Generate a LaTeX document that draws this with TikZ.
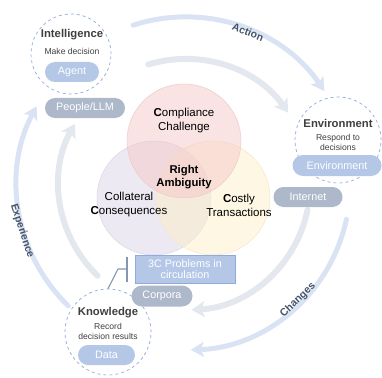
\documentclass[tikz,border=0pt]{standalone}
\usepackage{fontspec}
\setmainfont{Liberation Sans}
\usetikzlibrary{arrows.meta}

\definecolor{pinkc}{HTML}{F4C7C7}
\definecolor{pinkd}{HTML}{EDCACA}
\definecolor{lavc}{HTML}{DBD3E5}
\definecolor{lavd}{HTML}{DAD4E4}
\definecolor{yelc}{HTML}{FDEFC9}
\definecolor{yeld}{HTML}{F6E7C4}
\definecolor{outarc}{HTML}{DAE3F3}
\definecolor{inarc}{HTML}{E3E7EE}
\definecolor{pillblue}{HTML}{B4C7E7}
\definecolor{pillgray}{HTML}{ADB9CA}
\definecolor{dashblue}{HTML}{8FAADC}
\definecolor{navy}{HTML}{44546A}
\definecolor{ttl}{HTML}{3F3F3F}
\definecolor{brkc}{HTML}{8497B0}

\tikzset{
  venn/.style={circle,minimum size=114pt,inner sep=0pt,fill opacity=0.5,line width=0.5pt},
  venntxt/.style={align=center,font=\fontsize{11.5}{14}\selectfont},
  ring/.style={circle,draw=dashblue,dashed,line width=0.7pt,inner sep=0pt},
  ttlfont/.style={text=ttl,font=\bfseries\fontsize{11.3}{13}\selectfont},
  descfont/.style={text=ttl,align=center,font=\fontsize{8.6}{10.5}\selectfont},
  pill/.style={rounded corners=10pt,minimum height=20pt,inner sep=0pt,text=white,
    font=\fontsize{10.8}{12}\selectfont},
  outerarc/.style={outarc,line width=5pt,line cap=round,
    -{Stealth[length=13pt,width=15pt,inset=3pt]}},
  innerarc/.style={inarc,line width=6pt,line cap=round,
    -{Stealth[length=13pt,width=16pt,inset=3pt]}},
  arclbl/.style={text=navy,font=\bfseries\fontsize{10.5}{12}\selectfont},
  brk/.style={brkc,line width=1.1pt}
}

\begin{document}
\begin{tikzpicture}[x=1pt,y=-1pt]
  \useasboundingbox (0,0) rectangle (382,377);
  \coordinate (hub) at (185,185);

  \draw[outerarc] (hub) ++(-108:168) arc[start angle=-108,end angle=-34,radius=168];
  \draw[outerarc] (hub) ++(12:165) arc[start angle=12,end angle=88,radius=165];
  \draw[outerarc] (hub) ++(134:168) arc[start angle=134,end angle=208,radius=168];
  \draw[innerarc] (hub) ++(-107:126) arc[start angle=-107,end angle=-35,radius=126];
  \draw[innerarc] (hub) ++(11.5:125) arc[start angle=11.5,end angle=87,radius=125];
  \draw[innerarc] (hub) ++(134:126) arc[start angle=134,end angle=209,radius=126];

  \node[arclbl,rotate=-22] (lact) at (248,32) {Action};
  \node[arclbl,rotate=44] (lchg) at (298,300) {Changes};
  \node[arclbl,rotate=-72] (lexp) at (22,231) {Experience};

  \node[venn,fill=lavc,draw=lavd] (coll) at (154,198) {};
  \node[venn,fill=yelc,draw=yeld] (cost) at (213,198) {};
  \node[venn,fill=pinkc,draw=pinkd] (comp) at (184,141) {};
  \node[venntxt] (tcomp) at (184,121) {\textbf{C}ompliance\\Challenge};
  \node[venntxt,font=\bfseries\fontsize{11.3}{13.5}\selectfont] (tright) at (184,177) {Right\\Ambiguity};
  \node[venntxt] (tcoll) at (129,205) {Collateral\\\textbf{C}onsequences};
  \node[venntxt] (tcost) at (239,205) {\textbf{C}ostly\\Transactions};

  \node[ring,minimum size=80pt] (intel) at (71,54) {};
  \node[ttlfont] (tintel) at (72,35) {Intelligence};
  \node[descfont] (dintel) at (72,51.5) {Make decision};
  \node[pill,fill=pillblue,minimum width=54pt] (agent) at (72,72) {Agent};
  \node[pill,fill=pillgray,minimum width=80pt] (people) at (85,108) {People/LLM};

  \node[ring,minimum size=86pt] (env) at (338,140) {};
  \node[ttlfont] (tenv) at (338,123) {Environment};
  \node[descfont,font=\fontsize{8.6}{10}\selectfont] (denv) at (338,142.5) {Respond to\\decisions};
  \node[pill,fill=pillblue,minimum width=89pt,minimum height=21pt,rounded corners=10.5pt] (envpill) at (337,165.5) {Environment};
  \node[pill,fill=pillgray,minimum width=69pt] (internet) at (308,197) {Internet};

  \node[ring,minimum size=86pt] (know) at (108,332) {};
  \node[ttlfont] (tknow) at (108,312.5) {Knowledge};
  \node[descfont] (dknow) at (108,331.5) {Record\\decision results};
  \node[pill,fill=pillblue,minimum width=57pt] (data) at (106.5,355) {Data};
  \node[pill,fill=pillgray,minimum width=61pt,minimum height=21pt,rounded corners=10.5pt] (corpora) at (162,296) {Corpora};

  \node[fill=pillblue,draw=dashblue,line width=1pt,minimum width=100pt,minimum height=28pt,
    inner sep=0pt,text=white,align=center,font=\fontsize{10.8}{11.7}\selectfont] (box3c) at (185,269) {3C Problems in\\circulation};

  \coordinate (bend) at (118,269);
  \coordinate (bartop) at (127,257);
  \coordinate (barbot) at (127,282);
  \draw[brk] (know.north) -- (bend) -- (bend -| bartop);
  \draw[brk] (bartop) -- (barbot);
\end{tikzpicture}
\end{document}
